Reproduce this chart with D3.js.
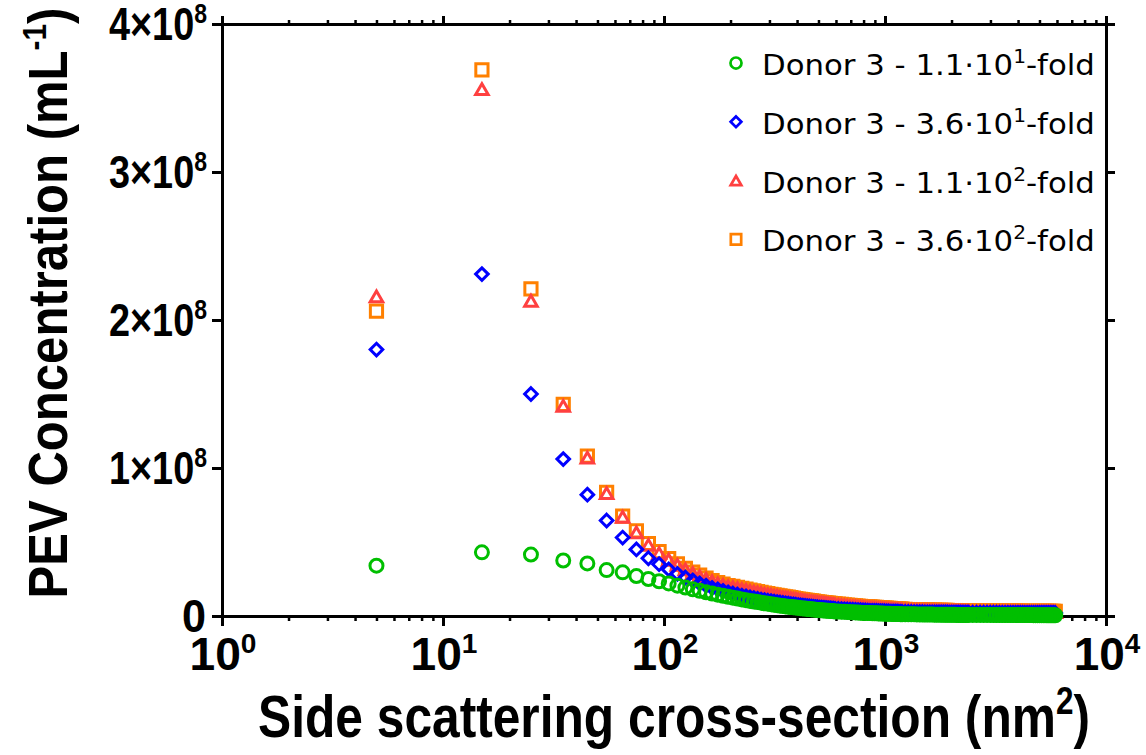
<!DOCTYPE html>
<html>
<head>
<meta charset="utf-8">
<script src="https://cdn.jsdelivr.net/npm/d3@7"></script>
<style>
  body { margin: 0; background: #fff; }
  .axis path, .axis line { stroke: #000; }
</style>
</head>
<body>
<svg id="chart" width="1146" height="755"></svg>
<script>
// side scattering cross-section bin centres (nm^2)
const binCenters = [5,15,25,35,45,55,65,75,85,95,105,115,125,135,145,155,165,175,185,195,205,215,225,235,245,255,265,275,285,295,
  305,315,325,335,345,355,365,375,385,395,405,415,425,435,445,455,465,475,485,495,505,515,525,535,545,555,565,575,585,595,
  615,635,655,675,695,715,735,755,775,795,815,835,855,875,895,915,935,955,975,995,1015,1035,1055,1075,1095,1115,1135,1155,1175,1195,
  1235,1275,1315,1355,1395,1435,1475,1515,1555,1595,1635,1675,1715,1755,1795,1835,1875,1915,1955,1995,2035,2075,2115,2155,2195,2235,2275,2315,2355,2395,
  2495,2595,2695,2795,2895,2995,3095,3195,3295,3395,3495,3595,3695,3795,3895,3995,4095,4195,4295,4395,4495,4595,4695,4795,4895,4995,5095,5195,5295,5395,5495,5595,5695,5795,5895];

// PEV concentration, in units of 10^6 mL^-1
const fold11 = [34,43,41.5,37.5,35.5,31,29.5,27,25,23.5,22,20.5,19.2,18,17,16,15.2,14.4,13.7,13,12.4,11.8,11.2,10.7,10.2,9.8,9.4,9,8.6,8.3,
  8,7.6,7.3,7,6.8,6.5,6.3,6.1,5.9,5.7,5.5,5.3,5.1,5,4.8,4.7,4.5,4.4,4.3,4.1,4,3.9,3.8,3.7,3.6,3.5,3.4,3.3,3.2,3.1,
  3,2.9,2.8,2.7,2.6,2.5,2.4,2.3,2.2,2.1,2.05,2,1.95,1.9,1.85,1.8,1.75,1.7,1.65,1.6,1.55,1.5,1.45,1.4,1.4,1.35,1.3,1.3,1.25,1.2,
  1.2,1.15,1.1,1.1,1.05,1.05,1,1,1,0.95,0.95,0.9,0.9,0.9,0.9,0.85,0.85,0.85,0.8,0.8,0.8,0.8,0.75,0.75,0.75,0.75,0.7,0.7,0.7,0.7,
  0.7,0.7,0.7,0.7,0.7,0.7,0.65,0.65,0.65,0.65,0.65,0.65,0.65,0.65,0.6,0.6,0.6,0.6,0.6,0.6,0.6,0.6,0.55,0.55,0.55,0.55,0.55,0.55,0.55,0.5,0.5,0.5,0.5,0.5,0.5];
const fold36 = [180,231,150,106,82,64.5,53,45,39,35,31.5,28.5,26,24,22,20.5,19,18,17,16,15.2,14.5,13.8,13.2,12.6,12.1,11.6,11.1,10.7,10.3,
  10,9.7,9.4,9.1,8.8,8.5,8.3,8,7.8,7.6,7.4,7.2,7,6.8,6.6,6.5,6.3,6.2,6,5.9,5.7,5.6,5.5,5.4,5.3,5.2,5.1,5,4.9,4.8,
  4.7,4.6,4.5,4.4,4.3,4.2,4.1,4,3.9,3.8,3.7,3.6,3.5,3.5,3.4,3.4,3.3,3.3,3.2,3.2,3.1,3.1,3,3,2.9,2.9,2.9,2.8,2.8,2.8,
  2.7,2.7,2.7,2.6,2.6,2.6,2.6,2.5,2.5,2.5,2.5,2.5,2.4,2.4,2.4,2.4,2.4,2.4,2.3,2.3,2.3,2.3,2.3,2.3,2.3,2.2,2.2,2.2,2.2,2.2,
  2.2,2.2,2.2,2.2,2.2,2.2,2.2,2.2,2.1,2.1,2.1,2.1,2.1,2.1,2.1,2.1,2.1,2.1,2,2,2,2,2,2,2,2,2,2,2,2,2,2,2,2,2];
const fold110 = [216,356,213,142,107,83,67,56.5,48,42.5,38,34.5,31.5,29,27,25,23.5,22,21,20,19.5,18.8,18.2,17.6,17,16.5,16,15.5,15,14.6,
  14.2,13.8,13.5,13.1,12.8,12.5,12.2,11.9,11.6,11.3,11,10.8,10.5,10.3,10.1,9.9,9.7,9.5,9.3,9.1,8.9,8.8,8.6,8.5,8.3,8.2,8,7.9,7.8,7.7,
  7.5,7.3,7.1,6.9,6.7,6.5,6.4,6.2,6.1,5.9,5.8,5.7,5.6,5.5,5.4,5.3,5.2,5.1,5,4.9,4.8,4.7,4.7,4.6,4.5,4.5,4.4,4.3,4.3,4.2,
  4.1,4,4,3.9,3.9,3.8,3.8,3.7,3.7,3.6,3.6,3.6,3.5,3.5,3.5,3.4,3.4,3.4,3.3,3.3,3.3,3.3,3.2,3.2,3.2,3.2,3.1,3.1,3.1,3.1,
  3,3,3,3,3,3,3,3,2.9,2.9,2.9,2.9,2.9,2.9,2.9,2.9,2.9,2.9,2.8,2.8,2.8,2.8,2.8,2.8,2.8,2.8,2.8,2.8,2.7,2.7,2.7,2.7,2.7,2.7,2.7];
const fold360 = [206,369,221,143,108,83.5,67.5,57.5,49,43.5,38.8,35.2,32.2,29.6,27.6,25.6,24,22.5,21.5,20.5,20,19.3,18.7,18.1,17.5,17,16.5,16,15.5,15.1,
  14.7,14.3,14,13.6,13.3,13,12.7,12.4,12.1,11.8,11.5,11.3,11,10.8,10.6,10.4,10.2,10,9.8,9.6,9.4,9.3,9.1,9,8.8,8.7,8.5,8.4,8.3,8.2,
  8,7.8,7.6,7.4,7.2,7,6.9,6.7,6.6,6.4,6.3,6.2,6.1,6,5.9,5.8,5.7,5.6,5.5,5.4,5.3,5.2,5.1,5,4.9,4.9,4.8,4.7,4.7,4.6,
  4.5,4.4,4.4,4.3,4.3,4.2,4.2,4.1,4.1,4,4,4,3.9,3.9,3.9,3.8,3.8,3.8,3.7,3.7,3.7,3.7,3.6,3.6,3.6,3.6,3.5,3.5,3.5,3.5,
  3.4,3.4,3.4,3.4,3.4,3.4,3.4,3.4,3.3,3.3,3.3,3.3,3.3,3.3,3.3,3.3,3.3,3.3,3.2,3.2,3.2,3.2,3.2,3.2,3.2,3.2,3.2,3.2,3.1,3.1,3.1,3.1,3.1,3.1,3.1];

const seriesNames = [["Donor 3 - 1.1\u00b710", "1"], ["Donor 3 - 3.6\u00b710", "1"], ["Donor 3 - 1.1\u00b710", "2"], ["Donor 3 - 3.6\u00b710", "2"]];
const yTicks = [0, 100, 200, 300, 400];
const xDecades = [1, 10, 100, 1000, 10000];

const series = [
  { values: fold11, color: "#00bf00", shape: "circle" },
  { values: fold36, color: "#0000ff", shape: "diamond" },
  { values: fold110, color: "#ff4040", shape: "triangle" },
  { values: fold360, color: "#ff8000", shape: "square" }
];

const svg = d3.select("#chart");
const x = d3.scaleLog().domain([1, 1e4]).range([222, 1106]);
const y = d3.scaleLinear().domain([0, 400]).range([616, 24]);

function markerPath(shape, k) {
  k = k || 1;
  if (shape === "circle") { const r = 6.5 * k; return `M${r},0A${r},${r} 0 1,1 ${-r},0A${r},${r} 0 1,1 ${r},0Z`; }
  if (shape === "diamond") { const h = 6.3 * k; return `M0,${-h}L${h},0L0,${h}L${-h},0Z`; }
  if (shape === "square") { const h = 6.1 * k; return `M${-h},${-h}H${h}V${h}H${-h}Z`; }
  const a = 12.5 * k, hh = a * 0.866 / 2;
  return `M0,${-hh}L${a / 2},${hh}L${-a / 2},${hh}Z`;
}

// minor ticks for the log axis
const minors = [];
xDecades.slice(0, 4).forEach(d => { for (let m = 2; m < 10; m++) minors.push(d * m); });

function styleAxis(g, w) {
  g.attr("class", "axis");
  g.selectAll("path").attr("stroke-width", 3).attr("stroke-linecap", "square");
  g.selectAll("line").attr("stroke-width", w);
}

svg.append("g").attr("transform", "translate(0,616)")
  .call(d3.axisBottom(x).tickValues(minors).tickSize(5).tickFormat("").tickSizeOuter(0))
  .call(g => styleAxis(g, 2.5));
svg.append("g").attr("transform", "translate(0,616)")
  .call(d3.axisBottom(x).tickValues(xDecades).tickSize(10).tickFormat("").tickSizeOuter(0))
  .call(g => styleAxis(g, 3));
svg.append("g").attr("transform", "translate(0,24)")
  .call(d3.axisTop(x).tickValues(minors).tickSize(4).tickFormat("").tickSizeOuter(0))
  .call(g => styleAxis(g, 2.5));
svg.append("g").attr("transform", "translate(0,24)")
  .call(d3.axisTop(x).tickValues(xDecades).tickSize(8).tickFormat("").tickSizeOuter(0))
  .call(g => styleAxis(g, 3));
svg.append("g").attr("transform", "translate(222,0)")
  .call(d3.axisLeft(y).tickValues(yTicks).tickSize(10).tickFormat("").tickSizeOuter(0))
  .call(g => styleAxis(g, 3));
svg.append("g").attr("transform", "translate(1106,0)")
  .call(d3.axisRight(y).tickValues(yTicks).tickSize(9).tickFormat("").tickSizeOuter(0))
  .call(g => styleAxis(g, 3));

// squeeze a text horizontally (in its own frame) so it is `target` px wide
function fit(text, target, tx, ty, rot) {
  const w = text.node().getBBox().width;
  const s = target ? target / w : 1;
  text.attr("transform", `translate(${tx},${ty})` + (rot ? ` rotate(${rot})` : "") + ` scale(${s},1)`);
}

const tickFont = "'Liberation Sans', Arial, sans-serif";

// x tick labels
xDecades.forEach(d => {
  const t = svg.append("text").attr("text-anchor", "middle")
    .attr("font-family", tickFont).attr("font-weight", "bold").attr("font-size", 46);
  t.append("tspan").text("10");
  t.append("tspan").attr("dy", -17).attr("font-size", 28).text(Math.round(Math.log10(d)));
  fit(t, 67, x(d) + 1, 670);
});

// y tick labels
yTicks.forEach(v => {
  const t = svg.append("text").attr("text-anchor", "end")
    .attr("font-family", tickFont).attr("font-weight", "bold").attr("font-size", 46);
  if (v === 0) {
    t.text("0");
    fit(t, 24, 206, y(v) + 16);
  } else {
    t.append("tspan").text((v / 100) + "\u00d710");
    t.append("tspan").attr("dy", -17).attr("font-size", 28).text("8");
    fit(t, 98, 207, y(v) + 16);
  }
});

// axis titles
const xt = svg.append("text").attr("text-anchor", "middle")
  .attr("font-family", tickFont).attr("font-weight", "bold").attr("font-size", 60);
xt.append("tspan").text("Side scattering cross-section (nm");
xt.append("tspan").attr("dy", -23).attr("font-size", 38).text("2");
xt.append("tspan").attr("dy", 23).text(")");
fit(xt, 832, 674, 737);

const yt = svg.append("text").attr("text-anchor", "middle")
  .attr("font-family", tickFont).attr("font-weight", "bold").attr("font-size", 56);
yt.append("tspan").text("PEV Concentration (mL");
yt.append("tspan").attr("dy", -21).attr("font-size", 34).text("-1");
yt.append("tspan").attr("dy", 21).text(")");
fit(yt, 591, 67, 303, -90);

// data points: orange at the back, green on top
const plot = svg.append("g");
[3, 2, 1, 0].forEach(i => {
  const s = series[i];
  plot.append("g").selectAll("path")
    .data(binCenters.map((b, j) => ({ b, v: s.values[j] })))
    .join("path")
    .attr("d", markerPath(s.shape))
    .attr("transform", d => `translate(${x(d.b)},${y(d.v)})`)
    .attr("fill", "none")
    .attr("stroke", s.color)
    .attr("stroke-width", 3);
});

// legend
const legend = svg.append("g");
series.forEach((s, i) => {
  const ly = 63 + i * 58.8;
  legend.append("path").attr("d", markerPath(s.shape, 0.85))
    .attr("transform", `translate(736,${ly})`)
    .attr("fill", "none").attr("stroke", s.color).attr("stroke-width", 2.7);
  const t = legend.append("text").attr("font-family", "'DejaVu Sans', sans-serif").attr("font-size", 29).attr("fill", "#000");
  t.append("tspan").text(seriesNames[i][0]);
  t.append("tspan").attr("dy", -12).attr("font-size", 19).text(seriesNames[i][1]);
  t.append("tspan").attr("dy", 12).text("-fold");
  fit(t, 333, 762, ly + 12);
});
</script>
</body>
</html>
